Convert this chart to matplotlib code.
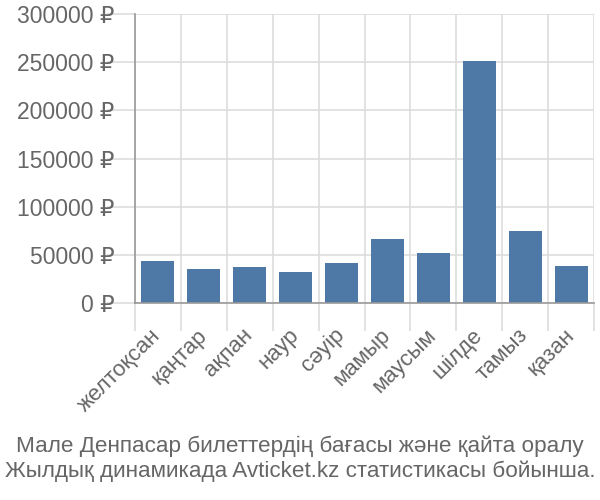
import matplotlib
matplotlib.use("Agg")
import matplotlib.pyplot as plt
from matplotlib.ticker import FixedLocator, FuncFormatter

plt.rcParams['font.family'] = ['Liberation Sans', 'DejaVu Sans']

months = ["желтоқсан", "қаңтар", "ақпан", "наур", "сәуір", "мамыр",
          "маусым", "шілде", "тамыз", "қазан"]
prices = [44000, 35600, 37700, 32500, 41800, 66700, 51900, 251500, 75000, 38700]
yticks = [0, 50000, 100000, 150000, 200000, 250000, 300000]

bar_color = "#4e79a7"
grid_color = "#dddddd"
text_color = "#666666"

fig = plt.figure(figsize=(6, 5), dpi=100)
ax = fig.add_axes([0.225, 0.394, 0.765, 0.578])

x = list(range(len(months)))
ax.bar(x, prices, width=0.72, color=bar_color, zorder=3)

ax.set_xlim(-0.5, len(months) - 0.5)
ax.set_ylim(0, 300000)

# category boundaries as minor ticks / gridlines
ax.xaxis.set_minor_locator(FixedLocator([i - 0.5 for i in range(len(months) + 1)]))
ax.set_xticks(x)
ax.set_xticklabels(months, rotation=45, ha='right', va='center',
                   rotation_mode='anchor', fontsize=16, color=text_color)
ax.tick_params(axis='x', which='major', length=0, pad=21)
ax.tick_params(axis='x', which='minor', length=20, color=grid_color, width=1.2)
ax.grid(axis='x', which='minor', color=grid_color, linewidth=1.2, zorder=0)

ax.set_yticks(yticks)
ax.yaxis.set_major_formatter(FuncFormatter(lambda v, p: f"{int(v)} ₽"))
ax.tick_params(axis='y', length=20, color=grid_color, width=1.2, pad=-5,
               labelsize=16.5, labelcolor=text_color)
ax.grid(axis='y', color=grid_color, linewidth=1.2, zorder=0)

for s in ['top', 'right']:
    ax.spines[s].set_visible(False)
for s in ['left', 'bottom']:
    ax.spines[s].set_color("#999999")
    ax.spines[s].set_linewidth(1.2)
    ax.spines[s].set_zorder(4)

fig.text(0.5, 0.083, "Мале Денпасар билеттердің бағасы және қайта оралу\n"
         "Жылдық динамикада Avticket.kz статистикасы бойынша.",
         ha='center', va='center', fontsize=16.2, color=text_color, linespacing=1.2)

fig.savefig("out.png", dpi=100)
